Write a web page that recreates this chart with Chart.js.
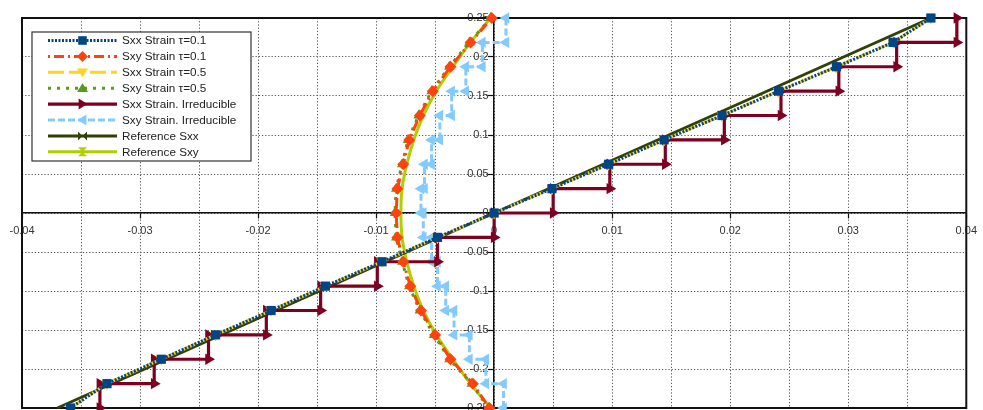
<!DOCTYPE html>
<html>
<head>
<meta charset="utf-8">
<script src="https://cdn.jsdelivr.net/npm/chart.js@4.4.1/dist/chart.umd.min.js"></script>
<style>
  html, body { margin: 0; padding: 0; background: #ffffff; overflow: hidden; }
  #wrap { width: 983px; height: 420px; }
</style>
</head>
<body>
<div id="wrap"><canvas id="strainChart" width="983" height="420"></canvas></div>
<script>
// Node depths through the section, bottom to top
const depth = [-0.25, -0.21875, -0.1875, -0.15625, -0.125, -0.09375, -0.0625, -0.03125, 0,
               0.03125, 0.0625, 0.09375, 0.125, 0.15625, 0.1875, 0.21875, 0.25];

// Nodal strains, stabilised formulation
const sxxTau01 = [-0.0359, -0.0328, -0.0282, -0.0236, -0.0189, -0.0143, -0.0095, -0.0048, 0,
                  0.0049, 0.0097, 0.0144, 0.0193, 0.0241, 0.0290, 0.0338, 0.0370];
const sxyTau01 = [-0.0004, -0.0018, -0.0037, -0.0050, -0.0062, -0.0071, -0.0077, -0.0082, -0.0083,
                  -0.0082, -0.0077, -0.0072, -0.0063, -0.0052, -0.0037, -0.0020, -0.0002];
const sxxTau05 = [-0.0359, -0.0328, -0.0282, -0.0236, -0.0189, -0.0143, -0.0095, -0.0048, 0,
                  0.0049, 0.0097, 0.0144, 0.0193, 0.0241, 0.0290, 0.0338, 0.0370];
const sxyTau05 = [-0.0005, -0.0019, -0.0038, -0.0051, -0.0063, -0.0072, -0.0078, -0.0083, -0.0084,
                  -0.0083, -0.0078, -0.0073, -0.0064, -0.0053, -0.0038, -0.0021, -0.0003];

// Irreducible formulation: one constant strain per element (between consecutive nodes)
const sxxIrreducible = [-0.0334, -0.0288, -0.0242, -0.0193, -0.0147, -0.0099, -0.0048, 0,
                        0.0050, 0.0098, 0.0145, 0.0195, 0.0243, 0.0292, 0.0341, 0.0392];
const sxyIrreducible = [0.0008, -0.0007, -0.0021, -0.0034, -0.0041, -0.0048, -0.0053, -0.0060,
                        -0.0062, -0.0059, -0.0053, -0.0046, -0.0036, -0.0024, -0.0010, 0.0010];

// Analytical reference
const refSxxDepth = [-0.25, 0.25];
const refSxx = [-0.037, 0.037];
const refSxy = [-0.0003, -0.0020, -0.0035, -0.0049, -0.0060, -0.0068, -0.0074, -0.0078, -0.0079,
                -0.0078, -0.0074, -0.0068, -0.0060, -0.0049, -0.0035, -0.0020, -0.0003];

const seriesNames = ['Sxx Strain \u03c4=0.1', 'Sxy Strain \u03c4=0.1', 'Sxx Strain \u03c4=0.5', 'Sxy Strain \u03c4=0.5',
                     'Sxx Strain. Irreducible', 'Sxy Strain. Irreducible', 'Reference Sxx', 'Reference Sxy'];

// Axis labels: x grid every 0.005, labelled every 0.01; y every 0.05
const xTickLabels = ['-0.04', '-0.03', '-0.02', '-0.01', '0', '0.01', '0.02', '0.03', '0.04'];
const yTickLabels = ['-0.25', '-0.2', '-0.15', '-0.1', '-0.05', '0', '0.05', '0.1', '0.15', '0.2', '0.25'];

function nodal(values, nodes) {
  return values.map((v, i) => ({ x: v, y: nodes[i] }));
}
function staircase(values, nodes) {
  const pts = [];
  values.forEach((v, k) => {
    pts.push({ x: v, y: nodes[k] });
    pts.push({ x: v, y: nodes[k + 1] });
  });
  return pts;
}

const FONT = '"Liberation Sans", Arial, sans-serif';

function series(i, data, color, width, dash, style, radius, rotation, tension) {
  return {
    label: seriesNames[i],
    data: data,
    showLine: true,
    borderColor: color,
    backgroundColor: color,
    borderWidth: width,
    borderDash: dash,
    pointStyle: style,
    pointRadius: radius,
    pointRotation: rotation,
    pointBorderWidth: 0,
    pointBackgroundColor: color,
    pointHoverRadius: radius,
    tension: tension || 0,
    clip: false
  };
}

const datasets = [
  series(0, nodal(sxxTau01, depth), '#004586', 3, [2, 1.5], 'rect', 6.5, 0),
  series(1, nodal(sxyTau01, depth), '#ff420e', 3, [2, 4, 10, 4], 'rectRot', 6, 0),
  series(2, nodal(sxxTau05, depth), '#ffd320', 3, [16, 5], 'triangle', 6.5, 180),
  series(3, nodal(sxyTau05, depth), '#579d1c', 3, [3, 6], 'triangle', 6, 0),
  series(4, staircase(sxxIrreducible, depth), '#7e0021', 3.2, [], 'triangle', 6.5, 90),
  series(5, staircase(sxyIrreducible, depth), '#83caff', 3, [7, 3], 'triangle', 6.5, 270),
  series(6, nodal(refSxx, refSxxDepth), '#314004', 3, [], 'circle', 0, 0),
  series(7, nodal(refSxy, depth), '#aecf00', 3, [], 'circle', 0, 0, 0.4)
];

// Legend symbol shapes (drawn in the legend only for the reference curves)
const legendSymbols = [
  { shape: 'square', r: 5.5 }, { shape: 'diamond', r: 5.5 }, { shape: 'down', r: 5.5 }, { shape: 'up', r: 5.5 },
  { shape: 'right', r: 5.5 }, { shape: 'left', r: 5.5 }, { shape: 'bowtie', r: 4.5 }, { shape: 'sandglass', r: 4.5 }
];

function drawSymbol(ctx, shape, x, y, r) {
  ctx.beginPath();
  switch (shape) {
    case 'square': ctx.rect(x - r * 0.78, y - r * 0.78, r * 1.56, r * 1.56); break;
    case 'diamond': ctx.moveTo(x, y - r); ctx.lineTo(x + r, y); ctx.lineTo(x, y + r); ctx.lineTo(x - r, y); break;
    case 'down': ctx.moveTo(x - r, y - r * 0.7); ctx.lineTo(x + r, y - r * 0.7); ctx.lineTo(x, y + r * 0.9); break;
    case 'up': ctx.moveTo(x - r, y + r * 0.7); ctx.lineTo(x + r, y + r * 0.7); ctx.lineTo(x, y - r * 0.9); break;
    case 'right': ctx.moveTo(x - r * 0.7, y - r); ctx.lineTo(x - r * 0.7, y + r); ctx.lineTo(x + r * 0.9, y); break;
    case 'left': ctx.moveTo(x + r * 0.7, y - r); ctx.lineTo(x + r * 0.7, y + r); ctx.lineTo(x - r * 0.9, y); break;
    case 'bowtie':
      ctx.moveTo(x - r, y - r); ctx.lineTo(x, y); ctx.lineTo(x - r, y + r); ctx.closePath();
      ctx.moveTo(x + r, y - r); ctx.lineTo(x, y); ctx.lineTo(x + r, y + r); break;
    case 'sandglass':
      ctx.moveTo(x - r, y - r); ctx.lineTo(x + r, y - r); ctx.lineTo(x, y); ctx.closePath();
      ctx.moveTo(x - r, y + r); ctx.lineTo(x + r, y + r); ctx.lineTo(x, y); break;
  }
  ctx.closePath();
  ctx.fill();
}

const framePlugin = {
  id: 'plotFrame',
  beforeDatasetsDraw(chart) {
    const { ctx, chartArea: a } = chart;
    ctx.save();
    ctx.strokeStyle = '#111111';
    ctx.lineWidth = 2;
    ctx.strokeRect(a.left, a.top, a.right - a.left, a.bottom - a.top);
    ctx.restore();
  }
};

const boxLegendPlugin = {
  id: 'boxLegend',
  afterDraw(chart) {
    const { ctx, chartArea: a } = chart;
    const left = a.left + 10, top = a.top + 14, w = 219, h = 129;
    ctx.save();
    ctx.fillStyle = '#ffffff';
    ctx.fillRect(left, top, w, h);
    ctx.strokeStyle = '#333333';
    ctx.lineWidth = 1.2;
    ctx.strokeRect(left, top, w, h);
    chart.data.datasets.forEach((ds, i) => {
      const y = top + 8.5 + i * 15.9;
      const x0 = left + 16, x1 = left + 85, xm = (x0 + x1) / 2;
      ctx.strokeStyle = ds.borderColor;
      ctx.lineWidth = ds.borderWidth;
      ctx.setLineDash(ds.borderDash || []);
      ctx.beginPath();
      ctx.moveTo(x0, y);
      ctx.lineTo(x1, y);
      ctx.stroke();
      ctx.setLineDash([]);
      ctx.fillStyle = ds.borderColor;
      drawSymbol(ctx, legendSymbols[i].shape, xm, y, legendSymbols[i].r);
      ctx.fillStyle = '#222222';
      ctx.font = '11.7px ' + FONT;
      ctx.textBaseline = 'middle';
      ctx.textAlign = 'left';
      ctx.fillText(ds.label, left + 90, y + 0.5);
    });
    ctx.restore();
  }
};

new Chart(document.getElementById('strainChart'), {
  type: 'scatter',
  data: { datasets: datasets },
  options: {
    responsive: false,
    devicePixelRatio: 1,
    animation: false,
    events: [],
    layout: { padding: { left: 22, right: 11, top: 18, bottom: 12 } },
    plugins: { legend: { display: false }, tooltip: { enabled: false } },
    scales: {
      x: {
        type: 'linear',
        position: { y: 0 },
        min: -0.04,
        max: 0.04,
        ticks: {
          stepSize: 0.005,
          autoSkip: false,
          maxRotation: 0,
          padding: 6,
          color: '#333333',
          font: { family: FONT, size: 11 },
          callback: (v, i) => (i % 2 === 0 ? xTickLabels[i / 2] : '')
        },
        grid: {
          color: '#555555',
          lineWidth: 1,
          tickLength: 5,
          tickWidth: 1.2,
          tickColor: (c) => (c.index % 2 === 0 ? '#111111' : 'rgba(0,0,0,0)')
        },
        border: { display: true, color: '#111111', width: 1.5, dash: [1.2, 2] }
      },
      y: {
        type: 'linear',
        position: { x: 0 },
        min: -0.25,
        max: 0.25,
        ticks: {
          stepSize: 0.05,
          autoSkip: false,
          padding: 0,
          color: '#333333',
          font: { family: FONT, size: 11 },
          // right-aligned at the axis line; the en space keeps the text clear of it
          callback: (v, i) => yTickLabels[i] + '\u2002'
        },
        grid: {
          color: '#555555',
          lineWidth: 1,
          tickLength: 5,
          tickWidth: 1.2,
          tickColor: '#111111'
        },
        border: { display: true, color: '#111111', width: 1.5, dash: [1.2, 2] }
      }
    }
  },
  plugins: [framePlugin, boxLegendPlugin]
});
</script>
</body>
</html>
